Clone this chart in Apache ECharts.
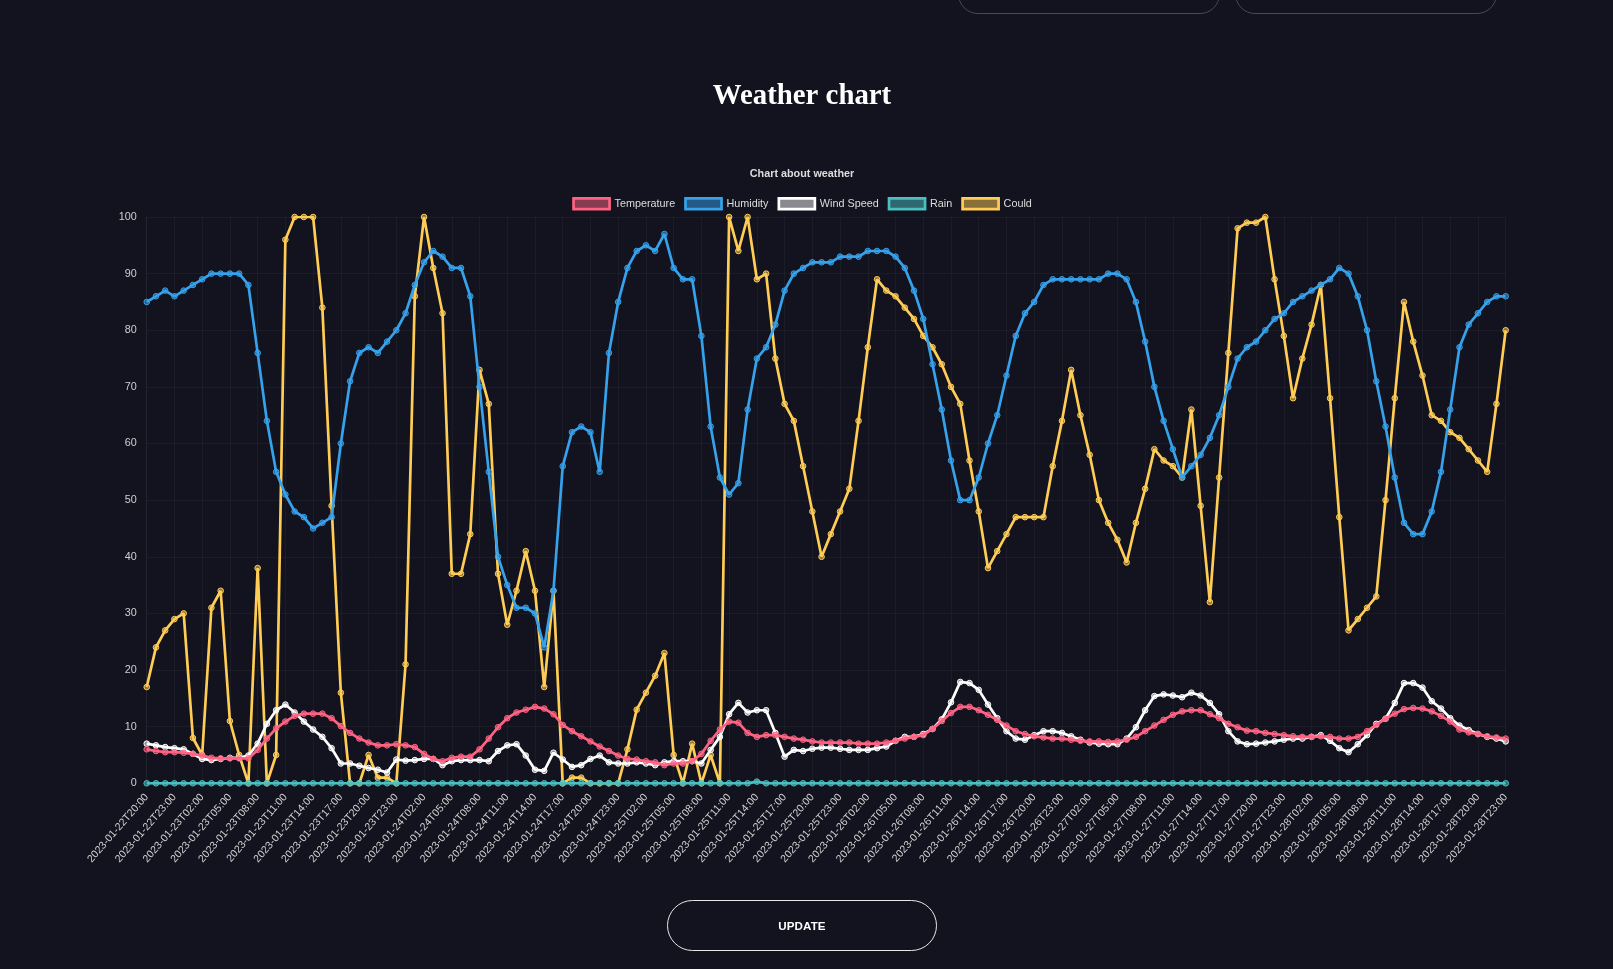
<!DOCTYPE html>
<html lang="en">
<head>
  <meta charset="utf-8">
  <title>Weather chart</title>
  <style>
    html, body { margin: 0; padding: 0; background: #13131f; overflow: hidden; }
    body { width: 1613px; height: 969px; position: relative; font-family: 'Liberation Sans', Arial, sans-serif; }
    #chart { position: absolute; left: 0; top: 0; width: 1604px; height: 969px; }
    .pill { position: absolute; box-sizing: border-box; border-radius: 20px; }
    .pill.top { top: -30px; height: 43.5px; border: 1px solid #4a4a57; }
    .pill.update {
      left: 667px; top: 900px; width: 270px; height: 51px; border: 1.2px solid #e8e8e8;
      border-radius: 26px; color: #fff; font-weight: bold; font-size: 11.6px;
      display: flex; align-items: center; justify-content: center; letter-spacing: 0.1px;
    }
  </style>
</head>
<body>
  <div id="chart"></div>
  <div class="pill top" style="left: 958px; width: 262px;"></div>
  <div class="pill top" style="left: 1235px; width: 262px;"></div>
  <div class="pill update">UPDATE</div>

  <script src="https://cdn.jsdelivr.net/npm/echarts@6/dist/echarts.min.js"></script>
  <script>
    // hourly timestamps 2023-01-22T20:00 .. 2023-01-28T23:00
    var startTime = Date.UTC(2023, 0, 22, 20);
    var hourCount = 148;
    var categories = [];
    for (var h = 0; h < hourCount; h++) {
      categories.push(new Date(startTime + h * 3600000).toISOString().slice(0, 16));
    }

    var temperature = [
      6, 5.7, 5.5, 5.5, 5.4, 5.2, 4.9, 4.5, 4.4, 4.4, 4.4, 4.4, 5.9, 7.9, 9.7, 10.9, 11.9, 12.3, 12.3, 12.3,
      11.5, 10.1, 8.9, 7.9, 7.2, 6.7, 6.7, 6.9, 6.7, 6.4,
      5.2, 4.3, 3.9, 4.5, 4.7, 4.7, 6, 7.9, 9.9, 11.5, 12.5, 13, 13.5, 13.2, 12.2, 10.3, 9.2, 8.3, 7.4, 6.5,
      5.7, 4.9, 4.3, 4.2, 3.9, 3.7, 3.2, 3.5, 3.5,
      3.9, 5.2, 7.5, 9.5, 10.9, 10.7, 8.9, 8.2, 8.5, 8.5, 8.2, 7.9, 7.7, 7.4, 7.2, 7.2, 7.2, 7.2, 7, 7,
      7, 7.2, 7.5, 7.9, 8.2, 8.5, 9.6, 11, 12.4,
      13.5, 13.5, 12.9, 12.1, 11.2, 10.2, 9.2, 8.7, 8.3, 8.1, 7.9, 7.9, 7.7, 7.5, 7.4, 7.4, 7.3, 7.4, 7.7, 8.2,
      9.2, 10.2, 11.2, 12.1, 12.7, 12.9, 12.9, 12.2,
      11.5, 10.5, 9.9, 9.3, 9.2, 8.9, 8.7, 8.5, 8.3, 8.2, 8.2, 8.3, 8.2, 7.9, 7.9, 8.2, 9.2, 10.3, 11.4, 12.3,
      13.1, 13.3, 13.2, 12.7, 11.9, 10.9, 9.5, 9, 8.7, 8.3, 8.1, 7.9
    ];

    var humidity = [
      85, 86, 87, 86, 87, 88, 89, 90, 90, 90, 90, 88, 76, 64, 55, 51, 48, 47, 45, 46,
      47, 60, 71, 76, 77, 76, 78, 80, 83, 88,
      92, 94, 93, 91, 91, 86, 70, 55, 40, 35, 31, 31, 30, 24, 34, 56, 62, 63, 62, 55,
      76, 85, 91, 94, 95, 94, 97, 91, 89,
      89, 79, 63, 54, 51, 53, 66, 75, 77, 81, 87, 90, 91, 92, 92, 92, 93, 93, 93, 94,
      94, 94, 93, 91, 87, 82, 74, 66, 57,
      50, 50, 54, 60, 65, 72, 79, 83, 85, 88, 89, 89, 89, 89, 89, 89, 90, 90, 89, 85,
      78, 70, 64, 59, 54, 56, 58, 61,
      65, 70, 75, 77, 78, 80, 82, 83, 85, 86, 87, 88, 89, 91, 90, 86, 80, 71, 63, 54,
      46, 44, 44, 48, 55, 66, 77, 81, 83, 85, 86, 86
    ];

    var windSpeed = [
      7, 6.7, 6.4, 6.2, 6, 5.2, 4.3, 4.1, 4.3, 4.5, 4.5, 4.9, 7, 10.5, 12.9, 13.9, 12.5, 10.9, 9.5, 8.2,
      6.2, 3.5, 3.5, 3.1, 2.7, 2.4, 1.9, 4.2, 4, 4.1,
      4.3, 4.3, 3.2, 3.9, 4.1, 4.1, 4.1, 3.9, 5.7, 6.7, 6.9, 4.9, 2.4, 2.2, 5.4, 4.2, 2.9, 3.2, 4.3, 4.9,
      3.7, 3.5, 3.5, 3.7, 3.5, 3.2, 3.7, 3.9, 3.9,
      3.9, 3.5, 5.9, 8.2, 12.2, 14.2, 12.5, 12.9, 12.9, 8.9, 4.7, 5.9, 5.7, 6.1, 6.3, 6.3, 6.1, 5.9, 5.9, 5.9,
      6.2, 6.5, 7.5, 8.2, 8.2, 8.7, 9.6, 11.3, 14.3,
      17.9, 17.7, 16.5, 13.9, 11.5, 9.2, 7.9, 7.7, 8.5, 9.2, 9.2, 8.9, 8.3, 7.7, 7.2, 7, 6.9, 6.9, 7.9, 9.9,
      12.9, 15.4, 15.7, 15.5, 15.2, 16, 15.5, 14.2,
      12.2, 9.2, 7.4, 6.9, 7, 7.2, 7.4, 7.7, 7.9, 7.9, 8.2, 8.5, 7.5, 6.2, 5.5, 6.9, 8.5, 10.5, 11.4, 14.2,
      17.7, 17.7, 16.9, 14.5, 13.2, 11.5, 10.2, 9.4, 8.7, 8.2, 7.9, 7.4
    ];

    var rain = [
      0, 0, 0, 0, 0, 0, 0, 0, 0, 0, 0, 0, 0, 0, 0, 0, 0, 0, 0, 0,
      0, 0, 0, 0, 0, 0, 0, 0, 0, 0,
      0, 0, 0, 0, 0, 0, 0, 0, 0, 0, 0, 0, 0, 0, 0, 0, 0, 0, 0, 0,
      0, 0, 0, 0, 0, 0, 0, 0, 0,
      0, 0, 0, 0, 0, 0, 0, 0.3, 0, 0, 0, 0, 0, 0, 0, 0, 0, 0, 0, 0,
      0, 0, 0, 0, 0, 0, 0, 0, 0,
      0, 0, 0, 0, 0, 0, 0, 0, 0, 0, 0, 0, 0, 0, 0, 0, 0, 0, 0, 0,
      0, 0, 0, 0, 0, 0, 0, 0,
      0, 0, 0, 0, 0, 0, 0, 0, 0, 0, 0, 0, 0, 0, 0, 0, 0, 0, 0, 0,
      0, 0, 0, 0, 0, 0, 0, 0, 0, 0, 0, 0
    ];

    var could = [
      17, 24, 27, 29, 30, 8, 5, 31, 34, 11, 5, 0, 38, 0, 5, 96, 100, 100, 100, 84,
      49, 16, 0, 0, 5, 1, 1, 0, 21, 86,
      100, 91, 83, 37, 37, 44, 73, 67, 37, 28, 34, 41, 34, 17, 34, 0, 1, 1, 0, 0,
      0, 0, 6, 13, 16, 19, 23, 5, 0,
      7, 0, 5, 0, 100, 94, 100, 89, 90, 75, 67, 64, 56, 48, 40, 44, 48, 52, 64, 77,
      89, 87, 86, 84, 82, 79, 77, 74, 70,
      67, 57, 48, 38, 41, 44, 47, 47, 47, 47, 56, 64, 73, 65, 58, 50, 46, 43, 39, 46,
      52, 59, 57, 56, 54, 66, 49, 32,
      54, 76, 98, 99, 99, 100, 89, 79, 68, 75, 81, 88, 68, 47, 27, 29, 31, 33, 50, 68,
      85, 78, 72, 65, 64, 62, 61, 59, 57, 55, 67, 80
    ];

    var seriesNames = ['Temperature', 'Humidity', 'Wind Speed', 'Rain', 'Could'];
    var seriesData = [temperature, humidity, windSpeed, rain, could];
    var lineColors = ['rgb(255, 99, 132)', 'rgb(54, 162, 235)', 'rgb(255, 255, 255)', 'rgb(75, 192, 192)', 'rgb(255, 205, 86)'];
    var fillColors = ['rgba(255, 99, 132, 0.5)', 'rgba(54, 162, 235, 0.5)', 'rgba(255, 255, 255, 0.5)', 'rgba(75, 192, 192, 0.5)', 'rgba(255, 205, 86, 0.5)'];

    var textFont = "'Liberation Sans', Arial, sans-serif";
    var gridColor = 'rgba(255, 255, 255, 0.04)';

    var chart = echarts.init(document.getElementById('chart'), null, { renderer: 'canvas' });

    var series = seriesNames.map(function (name, i) {
      return {
        name: name,
        type: 'line',
        data: seriesData[i],
        symbol: 'circle',
        symbolSize: 5.6,
        showAllSymbol: true,
        z: 10 - i, // first dataset drawn on top, like the original
        lineStyle: { color: lineColors[i], width: 2.7 },
        itemStyle: { color: fillColors[i], borderColor: lineColors[i], borderWidth: 1 },
        emphasis: { disabled: true }
      };
    });

    var option = {
      backgroundColor: '#13131f',
      animation: false,
      title: [{
        text: 'Weather chart',
        left: 'center',
        top: 77,
        textStyle: { fontFamily: "'Liberation Serif', 'Times New Roman', serif", fontWeight: 'bold', fontSize: 28.8, color: '#ffffff' }
      }, {
        text: 'Chart about weather',
        left: 'center',
        top: 164,
        textStyle: { fontFamily: textFont, fontWeight: 'bold', fontSize: 10.8, color: '#dddddd' }
      }],
      legend: {
        top: 192,
        left: 'center',
        itemWidth: 36,
        itemHeight: 10.8,
        itemGap: 9,
        textStyle: { fontFamily: textFont, fontSize: 10.8, color: '#dddddd' },
        data: seriesNames.map(function (name, i) {
          return {
            name: name,
            icon: 'rect',
            itemStyle: { color: fillColors[i], borderColor: lineColors[i], borderWidth: 2.7 }
          };
        })
      },
      grid: { left: 146.7, right: 98.3, top: 217, bottom: 185.7, containLabel: false },
      xAxis: {
        type: 'category',
        boundaryGap: false,
        data: categories,
        axisLine: { show: true, lineStyle: { color: gridColor } },
        axisTick: { show: false },
        axisLabel: { interval: 2, rotate: 49, margin: 12, fontFamily: textFont, fontSize: 10.6, color: '#d0d0d0' },
        splitLine: { show: true, interval: 2, lineStyle: { color: gridColor, width: 1 } }
      },
      yAxis: {
        type: 'value',
        min: 0,
        max: 100,
        interval: 10,
        axisLine: { show: true, lineStyle: { color: gridColor } },
        axisTick: { show: false },
        axisLabel: { margin: 10, fontFamily: textFont, fontSize: 10.8, color: '#d0d0d0' },
        splitLine: { show: true, lineStyle: { color: gridColor, width: 1 } }
      },
      series: series
    };

    chart.setOption(option);
  </script>
</body>
</html>
